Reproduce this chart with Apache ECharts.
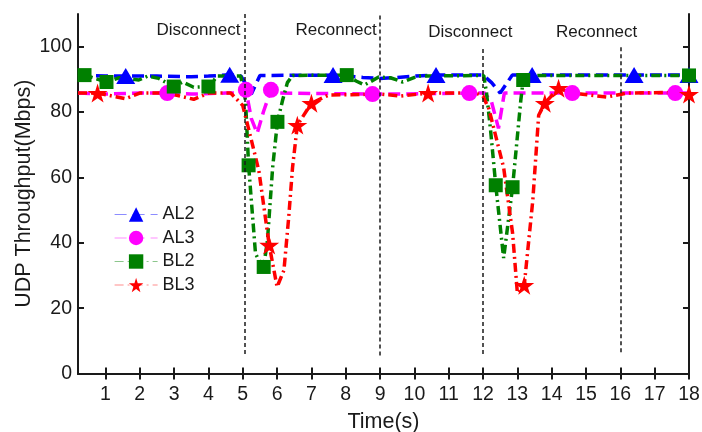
<!DOCTYPE html>
<html>
<head>
<meta charset="utf-8">
<script src="https://cdn.jsdelivr.net/npm/echarts@6/dist/echarts.min.js"></script>
<style>
  html, body { margin: 0; padding: 0; background: #fff; }
  #chart { width: 702px; height: 432px; }
</style>
</head>
<body>
<div id="chart"></div>
<script>
// 数据：各曲线 (时间, 吞吐量)，mark=1 的点画符号
const al2X = [0.2, 1.0, 1.59, 2.5, 3.5, 4.0, 4.62, 4.95, 5.25, 5.5, 7.63, 8.5, 9.0, 9.5, 10.0, 10.63, 12.0, 12.25, 12.5, 12.85, 13.43, 16.4, 18.0];
const al2Y = [91.2, 91.0, 91.0, 91.0, 90.8, 91.0, 91.4, 91.0, 85.5, 91.2, 91.3, 90.6, 90.3, 90.6, 91.0, 91.3, 91.3, 89.0, 85.8, 91.3, 91.3, 91.3, 91.3];
const al2M = [0, 0, 1, 0, 0, 0, 1, 0, 0, 0, 1, 0, 0, 0, 0, 1, 0, 0, 0, 0, 1, 1, 1];

const al3X = [0.2, 1.0, 2.0, 2.8, 3.5, 4.5, 5.0, 5.09, 5.25, 5.42, 5.6, 5.82, 6.05, 8.78, 9.5, 11.6, 12.05, 12.25, 12.45, 12.62, 14.6, 17.6, 18.0];
const al3Y = [85.8, 85.5, 85.8, 85.8, 85.5, 85.8, 85.8, 86.8, 78.0, 73.5, 80.0, 86.8, 85.8, 85.5, 85.5, 85.8, 85.8, 83.0, 75.0, 85.8, 85.8, 85.8, 85.8];
const al3M = [0, 0, 0, 1, 0, 0, 0, 1, 0, 0, 0, 1, 0, 1, 0, 1, 0, 0, 0, 0, 1, 1, 0];

const bl2X = [0.2, 0.39, 1.03, 1.4, 1.97, 2.23, 2.55, 2.99, 3.25, 3.57, 4.0, 4.26, 4.94, 5.08, 5.17, 5.37, 5.46, 5.61, 5.72, 5.87, 6.01, 6.16, 6.3, 6.45, 8.03, 8.3, 8.55, 8.96, 9.3, 9.66, 10.1, 12.02, 12.1, 12.22, 12.37, 12.6, 12.86, 13.1, 13.17, 13.4, 18.0];
const bl2Y = [91.5, 91.3, 89.2, 90.5, 89.8, 91.0, 90.3, 87.8, 89.2, 87.6, 87.8, 91.0, 91.0, 83.6, 63.7, 36.8, 34.7, 32.6, 40.8, 63.0, 77.0, 83.6, 89.0, 91.2, 91.3, 89.5, 88.3, 90.7, 90.5, 89.2, 91.0, 91.2, 86.0, 74.4, 57.6, 35.3, 57.0, 83.6, 89.8, 91.2, 91.2];
const bl2M = [0, 1, 1, 0, 0, 0, 0, 1, 0, 0, 1, 0, 0, 0, 1, 0, 0, 1, 0, 0, 1, 0, 0, 0, 1, 0, 0, 0, 0, 0, 0, 0, 0, 0, 1, 0, 1, 0, 1, 0, 1];

const bl3X = [0.2, 0.77, 1.58, 2.0, 2.8, 3.57, 4.0, 4.65, 5.0, 5.23, 5.47, 5.77, 6.0, 6.2, 6.34, 6.45, 6.59, 7.0, 7.5, 9.0, 9.6, 10.4, 11.8, 12.0, 12.17, 12.6, 12.86, 13.0, 13.2, 13.45, 13.62, 13.8, 14.2, 14.6, 15.6, 16.2, 17.3, 18.0];
const bl3Y = [85.8, 85.8, 84.1, 85.8, 85.8, 83.9, 85.8, 85.8, 82.0, 72.3, 62.0, 39.3, 26.5, 31.6, 48.0, 63.0, 76.0, 82.7, 85.2, 85.5, 84.9, 85.8, 85.8, 84.8, 81.0, 63.0, 43.0, 24.6, 27.0, 53.0, 79.0, 82.7, 87.3, 85.8, 84.6, 85.8, 86.0, 85.5];
const bl3M = [0, 1, 0, 0, 0, 0, 0, 0, 0, 0, 0, 1, 0, 0, 0, 0, 1, 1, 0, 0, 0, 1, 0, 0, 0, 0, 0, 0, 1, 0, 0, 1, 1, 0, 0, 0, 0, 1];

// 断开/重连竖线
const cutX = [5.05, 9.0, 12.0, 16.0];
const cutLow = [6, 5.5, 6, 6.5];
const cutHigh = [110, 110, 100, 100];
const noteText = ['Disconnect', 'Reconnect', 'Disconnect', 'Reconnect'];
const noteX = [3.71, 7.72, 11.63, 15.31];
const noteY = [105.0, 105.0, 104.5, 104.5];

const xTicks = [1, 2, 3, 4, 5, 6, 7, 8, 9, 10, 11, 12, 13, 14, 15, 16, 17, 18];
const yTicks = [0, 20, 40, 60, 80, 100];

const STAR = 'path://M50,0 L61,35 L98,35 L68,57 L79,91 L50,70 L21,91 L32,57 L2,35 L39,35 Z';
const FONT = "'Liberation Sans', Arial, sans-serif";
const INK = '#1a1a1a';

function toData(xs, ys, ms) {
  return xs.map((x, i) => ms[i] ? [x, ys[i]] : { value: [x, ys[i]], symbol: 'none' });
}

function lineSeries(name, xs, ys, ms, color, dash, symbol, size) {
  return {
    name, type: 'line',
    data: toData(xs, ys, ms),
    symbol, symbolSize: size, symbolKeepAspect: true,
    showAllSymbol: true,
    lineStyle: { color, width: 3.5, type: dash },
    itemStyle: { color, borderWidth: 0 },
    emphasis: { disabled: true },
    animation: false,
  };
}

const chart = echarts.init(document.getElementById('chart'));

const axisLine = { show: true, lineStyle: { color: INK, width: 2 } };
const tickStyle = { lineStyle: { color: INK, width: 2 } };

const series = [
  lineSeries('AL2', al2X, al2Y, al2M, '#0000ff', [12, 6], 'triangle', [19, 16]),
  lineSeries('AL3', al3X, al3Y, al3M, '#ff00ff', [12, 6], 'circle', 16),
  lineSeries('BL2', bl2X, bl2Y, bl2M, '#008000', [9, 4, 2, 4], 'rect', 14),
  lineSeries('BL3', bl3X, bl3Y, bl3M, '#ff0000', [9, 4, 2, 4], STAR, 20),
];

series[0].markLine = {
  silent: true, symbol: 'none', animation: false,
  label: { show: false },
  lineStyle: { color: INK, width: 1.5, type: [4, 3] },
  data: cutX.map((x, i) => [{ coord: [x, cutLow[i]] }, { coord: [x, cutHigh[i]] }]),
};
series[1].markPoint = {
  silent: true, animation: false,
  symbol: 'circle', symbolSize: 1,
  itemStyle: { color: 'rgba(0,0,0,0)' },
  label: {
    show: true, position: 'inside', color: INK,
    fontSize: 17, fontFamily: FONT,
    formatter: p => p.name,
  },
  data: noteText.map((t, i) => ({ name: t, coord: [noteX[i], noteY[i]] })),
};

chart.setOption({
  backgroundColor: '#fff',
  textStyle: { fontFamily: FONT, color: INK },
  grid: { left: 78, right: 13, top: 14, bottom: 58.5, containLabel: false, outerBoundsMode: 'none' },
  legend: {
    orient: 'vertical', left: 109, top: 200.5,
    itemWidth: 43, itemHeight: 18, itemGap: 5.5,
    textStyle: { fontSize: 18, color: INK, fontFamily: FONT },
    lineStyle: { width: 1.2, opacity: 0.45 },
    data: ['AL2', 'AL3', 'BL2', 'BL3'],
  },
  xAxis: [{
    type: 'value', min: 0.2, max: 18,
    name: 'Time(s)', nameLocation: 'middle', nameGap: 38,
    nameTextStyle: { fontSize: 21.5, color: INK },
    axisLine,
    axisTick: Object.assign({ show: true, inside: true, length: 6, customValues: xTicks }, tickStyle),
    axisLabel: { fontSize: 19.5, color: INK, margin: 11, customValues: xTicks },
    splitLine: { show: false },
  }, {
    type: 'value', min: 0.2, max: 18, position: 'top',
    axisLine,
    axisTick: Object.assign({ show: true, inside: true, length: 6, customValues: xTicks }, tickStyle),
    axisLabel: { show: false },
    splitLine: { show: false },
  }],
  yAxis: [{
    type: 'value', min: 0, max: 110,
    name: 'UDP Throughput(Mbps)', nameLocation: 'middle', nameGap: 43,
    nameMoveOverlap: false,
    nameTextStyle: { fontSize: 21.5, color: INK },
    axisLine,
    axisTick: Object.assign({ show: true, inside: true, length: 6, customValues: yTicks }, tickStyle),
    axisLabel: { fontSize: 19.5, color: INK, margin: 6, customValues: yTicks },
    splitLine: { show: false },
  }, {
    type: 'value', min: 0, max: 110, position: 'right',
    axisLine,
    axisTick: Object.assign({ show: true, inside: true, length: 6, customValues: yTicks }, tickStyle),
    axisLabel: { show: false },
    splitLine: { show: false },
  }],
  series,
});
</script>
</body>
</html>
